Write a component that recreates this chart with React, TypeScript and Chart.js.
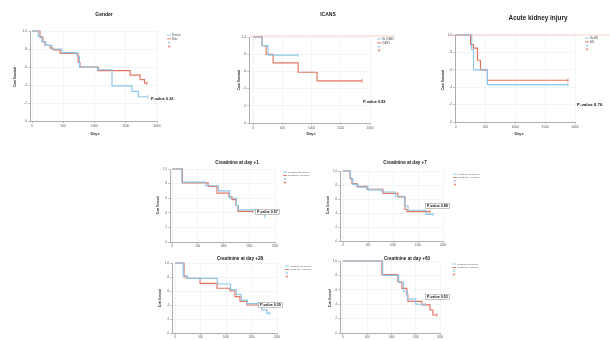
import { useEffect, useRef } from "react";
import { Chart, registerables } from "chart.js";
Chart.register(...registerables);

const RED = "#e2755f";
const BLUE = "#8cc6ea";
const FONT = "'Liberation Sans', Arial, sans-serif";

// ---- data (days, cumulative survival) ----
const xTickValues = [0, 500, 1000, 1500, 2000];
const yTickValues = [0, 0.2, 0.4, 0.6, 0.8, 1.0];

const genderFemaleDays = [0, 100, 160, 220, 320, 480, 720, 760, 1050, 1280, 1600, 1700, 1850];
const genderFemaleSurv = [1, 0.94, 0.88, 0.84, 0.8, 0.76, 0.72, 0.6, 0.57, 0.39, 0.33, 0.27, 0.27];
const genderMaleDays = [0, 128, 176, 208, 290, 340, 450, 740, 768, 1060, 1570, 1730, 1800, 1840];
const genderMaleSurv = [1, 0.93, 0.88, 0.84, 0.81, 0.79, 0.75, 0.65, 0.6, 0.56, 0.51, 0.46, 0.42, 0.42];

const icansNoDays = [0, 154, 257, 770];
const icansNoSurv = [1, 0.9, 0.79, 0.79];
const icansYesDays = [0, 154, 222, 342, 770, 1094, 1864];
const icansYesSurv = [1, 0.9, 0.8, 0.7, 0.59, 0.49, 0.49];

const akiNoDays = [0, 270, 300, 533, 1883];
const akiNoSurv = [1, 0.83, 0.6, 0.43, 0.43];
const akiYesDays = [0, 250, 300, 367, 417, 533, 1883];
const akiYesSurv = [1, 0.89, 0.85, 0.71, 0.6, 0.48, 0.48];

const cr1LowDays = [0, 190, 650, 900, 1120, 1250, 1290, 1650, 1804];
const cr1LowSurv = [1, 0.82, 0.77, 0.7, 0.6, 0.5, 0.44, 0.38, 0.35];
const cr1HighDays = [0, 200, 700, 873, 1106, 1164, 1242, 1280, 1571];
const cr1HighSurv = [1, 0.81, 0.76, 0.67, 0.62, 0.58, 0.5, 0.42, 0.42];

const cr7LowDays = [0, 150, 200, 300, 500, 780, 1050, 1230, 1300, 1660, 1800];
const cr7LowSurv = [1, 0.88, 0.81, 0.77, 0.73, 0.7, 0.64, 0.5, 0.44, 0.38, 0.38];
const cr7HighDays = [0, 140, 180, 280, 480, 800, 1100, 1240, 1280, 1740];
const cr7HighSurv = [1, 0.9, 0.82, 0.78, 0.74, 0.68, 0.63, 0.45, 0.42, 0.42];

const cr28LowDays = [0, 160, 240, 830, 1090, 1200, 1300, 1420, 1705, 1803, 1862];
const cr28LowSurv = [1, 0.82, 0.78, 0.7, 0.62, 0.55, 0.47, 0.42, 0.33, 0.28, 0.28];
const cr28HighDays = [0, 176, 235, 490, 823, 1078, 1176, 1274, 1411, 1666];
const cr28HighSurv = [1, 0.8, 0.78, 0.71, 0.64, 0.6, 0.52, 0.45, 0.4, 0.4];

const cr60LowDays = [0, 820, 1150, 1250, 1330, 1500, 1700];
const cr60LowSurv = [1, 0.8, 0.7, 0.58, 0.47, 0.4, 0.4];
const cr60HighDays = [0, 803, 1133, 1215, 1318, 1339, 1627, 1792, 1854, 1936];
const cr60HighSurv = [1, 0.81, 0.71, 0.62, 0.53, 0.44, 0.39, 0.32, 0.25, 0.25];

const crLowLabel = "Creatinine ≤1.2mg/dl";
const crHighLabel = "Creatinine >1.2mg/dl";

type Group = { label: string; days: number[]; surv: number[]; color: string };
type Spec = {
  title: string;
  titleSize: number;
  titleX: number;
  titleY: number;
  plot: [number, number, number, number]; // L, T, R, B
  yAxisW: number;
  xAxisH: number;
  xMin: number;
  xMax: number;
  tickSize: number;
  groups: Group[];
  yTitleX: number;
  yTitleY: number;
  xTitle?: [number, number];
  legendX: number;
  legendY: number;
  legendSize: number;
  pText: string;
  pX: number;
  pY: number;
  pSize: number;
  pBox: boolean;
  topLine?: [number, number, number];
};

const specs: Spec[] = [
  {
    title: "Gender", titleSize: 5, titleX: 104, titleY: 15,
    plot: [30, 31, 157, 121], yAxisW: 12, xAxisH: 8, xMin: -32, xMax: 2000, tickSize: 3.2,
    groups: [
      { label: "Female", days: genderFemaleDays, surv: genderFemaleSurv, color: BLUE },
      { label: "Male", days: genderMaleDays, surv: genderMaleSurv, color: RED },
    ],
    yTitleX: 15, yTitleY: 77, xTitle: [95, 134],
    legendX: 167, legendY: 35, legendSize: 2.6,
    pText: "P-value 0.32", pX: 151, pY: 99, pSize: 3.9, pBox: false,
  },
  {
    title: "ICANS", titleSize: 5, titleX: 328, titleY: 15,
    plot: [249, 37, 370, 123], yAxisW: 10, xAxisH: 8, xMin: -70, xMax: 2000, tickSize: 3.2,
    groups: [
      { label: "No ICANS", days: icansNoDays, surv: icansNoSurv, color: BLUE },
      { label: "ICANS", days: icansYesDays, surv: icansYesSurv, color: RED },
    ],
    yTitleX: 239, yTitleY: 80, xTitle: [311, 134],
    legendX: 377, legendY: 39, legendSize: 2.6,
    pText: "P-value 0.83", pX: 363, pY: 102, pSize: 3.9, pBox: false,
    topLine: [250, 395, 36],
  },
  {
    title: "Acute kidney injury", titleSize: 6.4, titleX: 538, titleY: 18,
    plot: [455, 35, 575, 122], yAxisW: 10, xAxisH: 8, xMin: -10, xMax: 2000, tickSize: 3.2,
    groups: [
      { label: "No AKI", days: akiNoDays, surv: akiNoSurv, color: BLUE },
      { label: "AKI", days: akiYesDays, surv: akiYesSurv, color: RED },
    ],
    yTitleX: 443, yTitleY: 80, xTitle: [519, 134],
    legendX: 585, legendY: 38, legendSize: 2.6,
    pText: "P-value 0.76", pX: 577, pY: 105, pSize: 4.4, pBox: false,
    topLine: [450, 610, 35],
  },
  {
    title: "Creatinine at day +1", titleSize: 4.6, titleX: 237, titleY: 163,
    plot: [170, 169, 275, 242], yAxisW: 8, xAxisH: 7, xMin: -40, xMax: 2000, tickSize: 2.8,
    groups: [
      { label: crLowLabel, days: cr1LowDays, surv: cr1LowSurv, color: BLUE },
      { label: crHighLabel, days: cr1HighDays, surv: cr1HighSurv, color: RED },
    ],
    yTitleX: 158, yTitleY: 205,
    legendX: 283, legendY: 172, legendSize: 2.3,
    pText: "P-value 0.57", pX: 257, pY: 212, pSize: 3.6, pBox: true,
  },
  {
    title: "Creatinine at day +7", titleSize: 4.6, titleX: 405, titleY: 163,
    plot: [340, 171, 443, 241], yAxisW: 8, xAxisH: 7, xMin: -60, xMax: 2000, tickSize: 2.8,
    groups: [
      { label: crLowLabel, days: cr7LowDays, surv: cr7LowSurv, color: BLUE },
      { label: crHighLabel, days: cr7HighDays, surv: cr7HighSurv, color: RED },
    ],
    yTitleX: 328, yTitleY: 205,
    legendX: 453, legendY: 174, legendSize: 2.3,
    pText: "P-value 0.88", pX: 427, pY: 206, pSize: 3.6, pBox: true,
  },
  {
    title: "Creatinine at day +28", titleSize: 4.6, titleX: 240, titleY: 259,
    plot: [172, 263, 277, 333], yAxisW: 8, xAxisH: 6, xMin: -60, xMax: 2000, tickSize: 2.8,
    groups: [
      { label: crLowLabel, days: cr28LowDays, surv: cr28LowSurv, color: BLUE },
      { label: crHighLabel, days: cr28HighDays, surv: cr28HighSurv, color: RED },
    ],
    yTitleX: 160, yTitleY: 298,
    legendX: 285, legendY: 266, legendSize: 2.3,
    pText: "P-value 0.29", pX: 260, pY: 305, pSize: 3.6, pBox: true,
  },
  {
    title: "Creatinine at day +60", titleSize: 4.6, titleX: 407, titleY: 259,
    plot: [340, 261, 440, 333], yAxisW: 8, xAxisH: 6, xMin: -60, xMax: 2000, tickSize: 2.8,
    groups: [
      { label: crLowLabel, days: cr60LowDays, surv: cr60LowSurv, color: BLUE },
      { label: crHighLabel, days: cr60HighDays, surv: cr60HighSurv, color: RED },
    ],
    yTitleX: 330, yTitleY: 298,
    legendX: 452, legendY: 264, legendSize: 2.3,
    pText: "P-value 0.53", pX: 427, pY: 297, pSize: 3.6, pBox: true,
  },
];

const W = 610;
const H = 340;

function overlayPlugin(spec: Spec) {
  return {
    id: "kmOverlay",
    afterDraw(chart: any) {
      const ctx: CanvasRenderingContext2D = chart.ctx;
      ctx.save();
      if (spec.topLine) {
        const [x1, x2, y] = spec.topLine;
        ctx.strokeStyle = "rgba(236,150,135,0.55)";
        ctx.lineWidth = 0.8;
        ctx.beginPath();
        ctx.moveTo(x1, y);
        ctx.lineTo(x2, y);
        ctx.stroke();
      }
      ctx.fillStyle = "#1a1a1a";
      ctx.font = `bold ${spec.titleSize}px ${FONT}`;
      ctx.textAlign = "center";
      ctx.textBaseline = "middle";
      ctx.fillText(spec.title, spec.titleX, spec.titleY);
      ctx.save();
      ctx.translate(spec.yTitleX, spec.yTitleY);
      ctx.rotate(-Math.PI / 2);
      ctx.font = `bold ${spec.tickSize}px ${FONT}`;
      ctx.fillStyle = "#333";
      ctx.fillText("Cum Survival", 0, 0);
      ctx.restore();
      if (spec.xTitle) {
        ctx.font = `bold ${spec.tickSize + 0.6}px ${FONT}`;
        ctx.fillStyle = "#333";
        ctx.fillText("Days", spec.xTitle[0], spec.xTitle[1]);
      }
      ctx.textAlign = "left";
      ctx.font = `${spec.legendSize}px ${FONT}`;
      const gap = spec.legendSize + 1.2;
      spec.groups.forEach((g, i) => {
        const y = spec.legendY + i * gap;
        ctx.strokeStyle = g.color;
        ctx.lineWidth = 0.9;
        ctx.beginPath();
        ctx.moveTo(spec.legendX, y);
        ctx.lineTo(spec.legendX + 4, y);
        ctx.stroke();
        ctx.fillStyle = "#555";
        ctx.fillText(g.label, spec.legendX + 5, y);
      });
      spec.groups.forEach((g, i) => {
        const y = spec.legendY + (i + 2) * gap;
        ctx.strokeStyle = g.color;
        ctx.lineWidth = 0.8;
        ctx.beginPath();
        ctx.moveTo(spec.legendX + 2, y - 1.2);
        ctx.lineTo(spec.legendX + 2, y + 1.2);
        ctx.moveTo(spec.legendX + 0.8, y);
        ctx.lineTo(spec.legendX + 3.2, y);
        ctx.stroke();
      });
      ctx.font = `bold ${spec.pSize}px ${FONT}`;
      ctx.fillStyle = "#111";
      ctx.textBaseline = "middle";
      const tw = ctx.measureText(spec.pText).width;
      if (spec.pBox) {
        ctx.fillStyle = "#fff";
        ctx.fillRect(spec.pX - 1.5, spec.pY - spec.pSize * 0.75, tw + 3, spec.pSize * 1.5);
        ctx.strokeStyle = "#888";
        ctx.lineWidth = 0.5;
        ctx.strokeRect(spec.pX - 1.5, spec.pY - spec.pSize * 0.75, tw + 3, spec.pSize * 1.5);
        ctx.fillStyle = "#111";
      }
      ctx.fillText(spec.pText, spec.pX, spec.pY);
      ctx.restore();
    },
  };
}

function KMChart({ spec }: { spec: Spec }) {
  const ref = useRef<HTMLCanvasElement | null>(null);
  useEffect(() => {
    if (!ref.current) return;
    const [L, T, R, B] = spec.plot;
    const datasets = spec.groups.map((g) => {
      const pts = g.days.map((d, i) => ({ x: d, y: g.surv[i] }));
      return {
        label: g.label,
        data: pts,
        stepped: true as const,
        borderColor: g.color,
        borderWidth: 1.15,
        fill: false,
        clip: false as const,
        pointStyle: "line" as const,
        rotation: 90,
        pointRadius: (c: any) => (c.dataIndex === pts.length - 1 ? 1.8 : 0),
        pointBorderColor: g.color,
        pointBorderWidth: 0.8,
        pointHoverRadius: 0,
      };
    });
    const chart = new Chart(ref.current, {
      type: "line",
      data: { datasets },
      options: {
        animation: false,
        responsive: false,
        devicePixelRatio: 1,
        events: [],
        layout: {
          padding: {
            left: L - spec.yAxisW,
            top: T,
            right: W - R,
            bottom: H - B - spec.xAxisH,
          },
        },
        plugins: { legend: { display: false }, title: { display: false }, tooltip: { enabled: false } },
        scales: {
          x: {
            type: "linear",
            min: spec.xMin,
            max: spec.xMax,
            afterBuildTicks: (s: any) => {
              s.ticks = xTickValues.map((v) => ({ value: v }));
            },
            afterFit: (s: any) => {
              s.height = spec.xAxisH;
              s.paddingLeft = 0;
              s.paddingRight = 0;
            },
            ticks: {
              autoSkip: false,
              maxRotation: 0,
              padding: 1,
              color: "#555",
              font: { size: spec.tickSize, family: FONT },
              callback: (v: any) => String(v),
            },
            grid: { color: "rgba(190,210,225,0.35)", lineWidth: 0.6, tickLength: 2, tickColor: "#999", tickWidth: 0.6 },
            border: { color: "#9a9a9a", width: 0.8 },
          },
          y: {
            type: "linear",
            min: 0,
            max: 1,
            afterBuildTicks: (s: any) => {
              s.ticks = yTickValues.map((v) => ({ value: v }));
            },
            afterFit: (s: any) => {
              s.width = spec.yAxisW;
              s.paddingTop = 0;
              s.paddingBottom = 0;
            },
            ticks: {
              autoSkip: false,
              padding: 1,
              color: "#555",
              font: { size: spec.tickSize, family: FONT },
              callback: (v: any) => {
                const t = Math.round(Number(v) * 10);
                return t === 10 ? "1.0" : "." + t;
              },
            },
            grid: { color: "rgba(190,210,225,0.35)", lineWidth: 0.6, tickLength: 2, tickColor: "#999", tickWidth: 0.6 },
            border: { color: "#9a9a9a", width: 0.8 },
          },
        },
      },
      plugins: [overlayPlugin(spec)],
    } as any);
    return () => chart.destroy();
  }, [spec]);
  return (
    <canvas
      ref={ref}
      width={W}
      height={H}
      style={{ position: "absolute", left: 0, top: 0, width: W, height: H }}
    />
  );
}

export default function App() {
  return (
    <div
      style={{
        position: "fixed",
        left: 0,
        top: 0,
        width: W,
        height: H,
        background: "#fff",
        overflow: "hidden",
      }}
    >
      {specs.map((s, i) => (
        <KMChart key={i} spec={s} />
      ))}
    </div>
  );
}
